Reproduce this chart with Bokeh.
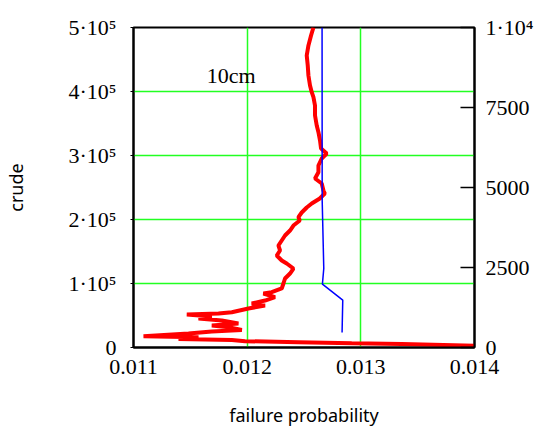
from bokeh.plotting import figure
from bokeh.models import Range1d, LinearAxis, FixedTicker, Label
from bokeh.embed import file_html
from bokeh.resources import INLINE

# red series: running failure probability estimate vs crude sample count
red_prob = [0.012583, 0.012562, 0.012539, 0.012524, 0.012533, 0.012539, 0.012553, 0.012568,
            0.012583, 0.012597, 0.012597, 0.012612, 0.012627, 0.012641, 0.012650, 0.012700,
            0.012656, 0.012627, 0.012627, 0.012597, 0.012656, 0.012671, 0.012683, 0.012639,
            0.012568, 0.012524, 0.012480, 0.012451, 0.012463, 0.012407, 0.012377, 0.012333,
            0.012304, 0.012275, 0.012289, 0.012260, 0.012304, 0.012348, 0.012407, 0.012377,
            0.012333, 0.012319, 0.012304, 0.012216, 0.012143, 0.012245, 0.012157, 0.012040,
            0.012157, 0.012011, 0.011865, 0.011748, 0.011469, 0.011689, 0.011572, 0.011777,
            0.011923, 0.011689, 0.011836, 0.011953, 0.011689, 0.011484, 0.011088, 0.011572,
            0.011396, 0.011865, 0.011982, 0.012451, 0.012920, 0.013360, 0.014063, 0.015000]
red_crude = [500000, 487500, 472000, 456250, 440600, 425000, 409400, 398900,
             391100, 378100, 362500, 346900, 336400, 323400, 310900, 303100,
             295300, 284400, 273900, 264100, 256250, 245300, 240600, 232800,
             225000, 218750, 210900, 203600, 198400, 190600, 182800, 175000,
             167200, 159400, 151600, 143750, 135900, 131250, 123400, 115600,
             107800, 100000, 92200, 86400, 84400, 78600, 73400, 68750,
             65600, 60900, 55200, 53100, 51600, 48400, 45300, 42200,
             37500, 34400, 31700, 27300, 25000, 21900, 17650, 16100,
             13300, 11700, 9850, 8300, 6700, 5500, 2300, 1000]

# blue series: estimate vs sample count on the right axis
blue_prob = [0.012659, 0.012660, 0.012674, 0.012662, 0.012841, 0.012835]
blue_n = [10000, 4600, 2470, 1980, 1480, 470]

x_ticks = [0.011, 0.012, 0.013, 0.014]
x_labels = ["0.011", "0.012", "0.013", "0.014"]
left_ticks = [0, 100000, 200000, 300000, 400000, 500000]
left_labels = ["0", "1·10⁵", "2·10⁵", "3·10⁵", "4·10⁵", "5·10⁵"]
right_ticks = [0, 2500, 5000, 7500, 10000]
right_labels = ["0", "2500", "5000", "7500", "1·10⁴"]

SERIF = "Liberation Serif"
SANS = "Noto Sans"

p = figure(frame_width=341, frame_height=320, output_backend="svg", toolbar_location=None,
           x_range=Range1d(0.011, 0.014), y_range=Range1d(0, 500000),
           min_border_left=132, min_border_right=65, min_border_top=27, min_border_bottom=87)
p.extra_y_ranges = {"n": Range1d(0, 10000)}

p.background_fill_color = "white"
p.border_fill_color = "white"
p.outline_line_color = "black"
p.outline_line_width = 2

for g in (p.xgrid, p.ygrid):
    g.grid_line_color = "#22ff22"
    g.grid_line_width = 1.5
p.xgrid.ticker = FixedTicker(ticks=x_ticks)
p.ygrid.ticker = FixedTicker(ticks=left_ticks)

xa = p.xaxis[0]
xa.ticker = FixedTicker(ticks=x_ticks)
xa.major_label_overrides = dict(zip(x_ticks, x_labels))
xa.axis_label = "failure probability"
ya = p.yaxis[0]
ya.ticker = FixedTicker(ticks=left_ticks)
ya.major_label_overrides = dict(zip(left_ticks, left_labels))
ya.axis_label = "crude"

ra = LinearAxis(y_range_name="n", ticker=FixedTicker(ticks=right_ticks))
ra.major_label_overrides = dict(zip(right_ticks, right_labels))
p.add_layout(ra, "right")

for ax in (xa, ya, ra):
    ax.axis_line_color = "black"
    ax.axis_line_width = 2
    ax.minor_tick_line_color = None
    ax.major_label_text_font = SERIF
    ax.major_label_text_font_size = "22px"
    ax.major_label_text_color = "black"
    ax.axis_label_text_font = SANS
    ax.axis_label_text_font_size = "18px"
    ax.axis_label_text_font_style = "normal"
    ax.axis_label_text_color = "black"

xa.major_tick_line_color = None
xa.major_label_standoff = 6
xa.axis_label_standoff = 26
ya.major_tick_in = 0
ya.major_tick_out = 3
ya.major_tick_line_color = "black"
ya.major_label_standoff = 14
ya.axis_label_standoff = 38
ra.major_tick_in = 14
ra.major_tick_out = 0
ra.major_tick_line_color = "black"
ra.major_tick_line_width = 1.5
ra.major_label_standoff = 11

p.line(red_prob, red_crude, line_color="#ff0000", line_width=4)
p.line(blue_prob, blue_n, y_range_name="n", line_color="#0000ff", line_width=1.5)

p.add_layout(Label(x=0.011645, y=425000, text="10cm", text_font=SERIF,
                   text_font_size="22px", text_color="black", text_baseline="alphabetic"))

open("out.html", "w").write(file_html(p, INLINE))
